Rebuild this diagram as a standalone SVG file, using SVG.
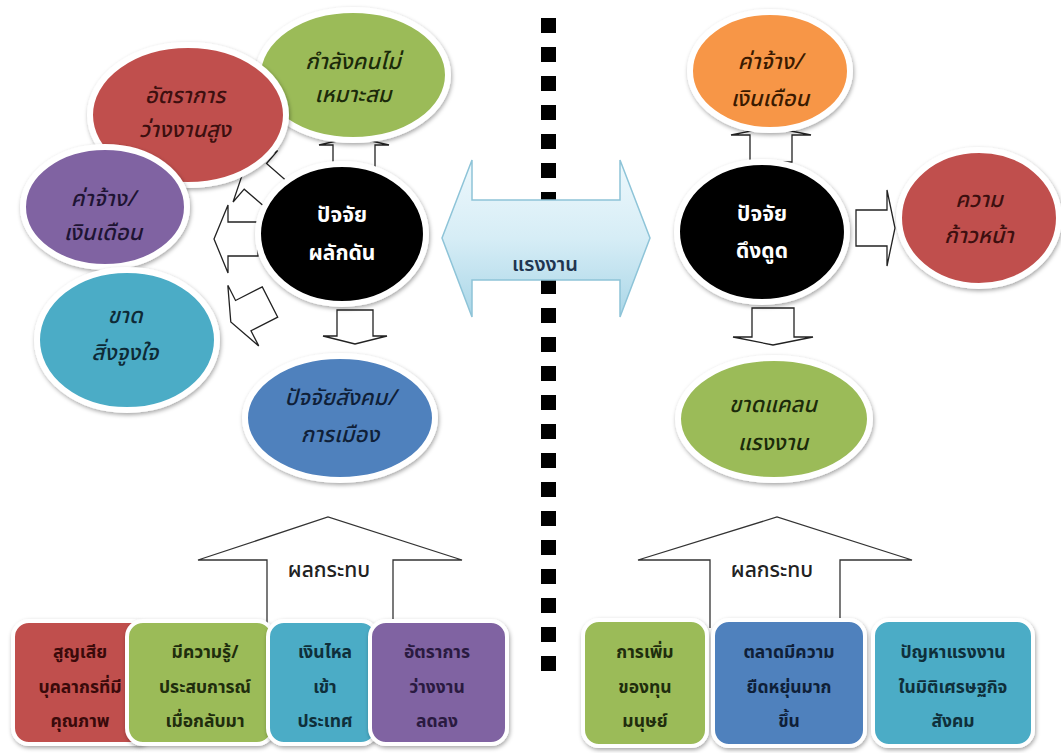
<svg xmlns="http://www.w3.org/2000/svg" width="1061" height="753" viewBox="0 0 1061 753">
<style>
text{font-family:'Noto Sans Thai','Noto Sans','DejaVu Sans',sans-serif;text-anchor:middle}
.et{font-size:22px;font-style:italic;font-weight:500}
.ct{font-size:21px;font-weight:bold;fill:#fff}
.bt{font-size:17.5px;font-weight:bold}
.it{font-size:21px;font-weight:500;fill:#222}
.rim{stroke:#fff;stroke-width:6;filter:url(#sh)}
.box{stroke:#fff;stroke-width:4;filter:url(#sh)}
.arr{fill:#fff;stroke:#222;stroke-width:1.3}
.big{fill:#fff;stroke:none}
.bigl{fill:none;stroke:#333;stroke-width:1.3}
</style>
<defs>
<filter id="sh" x="-10%" y="-10%" width="125%" height="130%">
<feDropShadow dx="1" dy="2" stdDeviation="2" flood-color="#000" flood-opacity="0.35"/>
</filter>
<linearGradient id="gb" x1="0" y1="0" x2="0" y2="1">
<stop offset="0" stop-color="#eef8fc"/>
<stop offset="0.5" stop-color="#d6edf6"/>
<stop offset="1" stop-color="#aad6e7"/>
</linearGradient>
<path id="aL" d="M0,-17 H-30 V-34 L-44,0 L-30,34 V17 H0 Z"/>
</defs>
<rect width="1061" height="753" fill="#fff"/>

<g id="divider" fill="#000">
<rect x="541" y="18" width="15" height="15"/><rect x="541" y="47" width="15" height="15"/><rect x="541" y="76" width="15" height="15"/><rect x="541" y="105" width="15" height="15"/><rect x="541" y="134" width="15" height="15"/><rect x="541" y="163" width="15" height="15"/><rect x="541" y="192" width="15" height="15"/><rect x="541" y="221" width="15" height="15"/><rect x="541" y="250" width="15" height="15"/><rect x="541" y="279" width="15" height="15"/><rect x="541" y="308" width="15" height="15"/><rect x="541" y="337" width="15" height="15"/><rect x="541" y="366" width="15" height="15"/><rect x="541" y="395" width="15" height="15"/><rect x="541" y="424" width="15" height="15"/><rect x="541" y="453" width="15" height="15"/><rect x="541" y="482" width="15" height="15"/><rect x="541" y="511" width="15" height="15"/><rect x="541" y="540" width="15" height="15"/><rect x="541" y="569" width="15" height="15"/><rect x="541" y="598" width="15" height="15"/><rect x="541" y="627" width="15" height="15"/><rect x="541" y="656" width="15" height="15"/>
</g>

<g id="connectors">
<use href="#aL" class="arr" transform="translate(258,239)"/>
<use href="#aL" class="arr" transform="translate(278,196) rotate(41)"/>
<use href="#aL" class="arr" transform="translate(270,302) rotate(-27)"/>
<path class="arr" d="M-21,0 V-25 H-35 L0,-33 L35,-25 H21 V0 Z" transform="translate(354,170)"/>
<path class="arr" d="M-18,0 V26 H-32 L0,34 L32,26 H18 V0 Z" transform="translate(355,310)"/>
<path class="arr" d="M-21,0 V-27 H-40 L0,-35 L40,-27 H21 V0 Z" transform="translate(771,162)"/>
<path class="arr" d="M-21,0 V29 H-40 L0,37 L40,29 H21 V0 Z" transform="translate(773,308)"/>
<path class="arr" d="M0,-18 H31 V-38 L39,0 L31,38 V18 H0 Z" transform="translate(856,228)"/>
<g id="impactL">
<path class="big" d="M267,628 V560 H198 L328,517 L462,560 H393 V628 Z"/>
<path class="bigl" d="M267,628 V560 H198 L328,517 L462,560 H393 V628"/>
<text class="it" x="329" y="577">ผลกระทบ</text>
</g>
<g id="impactR">
<path class="big" d="M710,628 V560 H638 L777,517 L912,560 H840 V628 Z"/>
<path class="bigl" d="M710,628 V560 H638 L777,517 L912,560 H840 V628"/>
<text class="it" x="772" y="577">ผลกระทบ</text>
</g>
<g id="labour">
<path d="M442,238 L472,160 V200 H620 V160 L650,238 L620,317 V280 H472 V317 Z" fill="url(#gb)" stroke="#8ec4d8" stroke-width="1.5"/>
<text x="545" y="271" style="font-size:20px;font-weight:600;fill:#1f3550">แรงงาน</text>
</g>
</g>

<g id="n-green-l"><ellipse cx="353" cy="75" rx="95" ry="65" fill="#9bbb59" class="rim"/>
<text class="et" x="353" y="69" fill="#1b2a0a">กำลังคนไม่</text><text class="et" x="353" y="102" fill="#1b2a0a">เหมาะสม</text></g>
<g id="n-red-l"><ellipse cx="188" cy="115" rx="98" ry="70" fill="#c0504d" class="rim"/>
<text class="et" x="185" y="103" fill="#3d0f0f">อัตราการ</text><text class="et" x="185" y="137" fill="#3d0f0f">ว่างงานสูง</text></g>
<g id="n-purple-l"><ellipse cx="105" cy="207" rx="82" ry="60" fill="#8064a2" class="rim"/>
<text class="et" x="103" y="206" fill="#1e1433">ค่าจ้าง/</text><text class="et" x="103" y="240" fill="#1e1433">เงินเดือน</text></g>
<g id="n-teal-l"><ellipse cx="127" cy="340" rx="90" ry="70" fill="#4bacc6" class="rim"/>
<text class="et" x="125" y="323" fill="#0e2a36">ขาด</text><text class="et" x="125" y="360" fill="#0e2a36">สิ่งจูงใจ</text></g>
<g id="n-blue-l"><ellipse cx="340" cy="418" rx="95" ry="62" fill="#4f81bd" class="rim"/>
<text class="et" x="340" y="405" fill="#0f1f38">ปัจจัยสังคม/</text><text class="et" x="340" y="442" fill="#0f1f38">การเมือง</text></g>
<g id="n-push"><ellipse cx="342" cy="234" rx="84" ry="70" fill="#000" class="rim"/>
<text class="ct" x="342" y="222">ปัจจัย</text><text class="ct" x="342" y="260">ผลักดัน</text></g>

<g id="n-orange-r"><ellipse cx="770" cy="71" rx="80" ry="59" fill="#f79646" class="rim"/>
<text class="et" x="770" y="69" fill="#3a1a00">ค่าจ้าง/</text><text class="et" x="770" y="106" fill="#3a1a00">เงินเดือน</text></g>
<g id="n-pull"><ellipse cx="762" cy="232" rx="85" ry="70" fill="#000" class="rim"/>
<text class="ct" x="762" y="221">ปัจจัย</text><text class="ct" x="762" y="258">ดึงดูด</text></g>
<g id="n-red-r"><ellipse cx="979" cy="218" rx="80" ry="68" fill="#c0504d" class="rim"/>
<text class="et" x="979" y="207" fill="#3d0f0f">ความ</text><text class="et" x="979" y="243" fill="#3d0f0f">ก้าวหน้า</text></g>
<g id="n-green-r"><ellipse cx="774" cy="419" rx="96" ry="61" fill="#9bbb59" class="rim"/>
<text class="et" x="773" y="412" fill="#1b2a0a">ขาดแคลน</text><text class="et" x="773" y="450" fill="#1b2a0a">แรงงาน</text></g>

<g id="b1"><rect x="13" y="621" width="137" height="123" rx="16" fill="#c0504d" class="box"/>
<text class="bt" x="80" y="658" fill="#3a0a0a">สูญเสีย</text><text class="bt" x="80" y="693" fill="#3a0a0a">บุคลากรที่มี</text><text class="bt" x="80" y="727" fill="#3a0a0a">คุณภาพ</text></g>
<g id="b2"><rect x="127" y="621" width="146" height="123" rx="16" fill="#9bbb59" class="box"/>
<text class="bt" x="205" y="658" fill="#1f2d0d">มีความรู้/</text><text class="bt" x="205" y="693" fill="#1f2d0d">ประสบการณ์</text><text class="bt" x="205" y="727" fill="#1f2d0d">เมื่อกลับมา</text></g>
<g id="b3"><rect x="268" y="621" width="109" height="123" rx="16" fill="#4bacc6" class="box"/>
<text class="bt" x="325" y="658" fill="#0f2f3a">เงินไหล</text><text class="bt" x="325" y="693" fill="#0f2f3a">เข้า</text><text class="bt" x="325" y="727" fill="#0f2f3a">ประเทศ</text></g>
<g id="b4"><rect x="370" y="621" width="137" height="123" rx="16" fill="#8064a2" class="box"/>
<text class="bt" x="437" y="658" fill="#2a1a40">อัตราการ</text><text class="bt" x="437" y="693" fill="#2a1a40">ว่างงาน</text><text class="bt" x="437" y="727" fill="#2a1a40">ลดลง</text></g>

<g id="b5"><rect x="583" y="620" width="124" height="126" rx="16" fill="#9bbb59" class="box"/>
<text class="bt" x="645" y="658" fill="#1f2d0d">การเพิ่ม</text><text class="bt" x="645" y="693" fill="#1f2d0d">ของทุน</text><text class="bt" x="645" y="727" fill="#1f2d0d">มนุษย์</text></g>
<g id="b6"><rect x="713" y="620" width="152" height="126" rx="16" fill="#4f81bd" class="box"/>
<text class="bt" x="789" y="658" fill="#0f1f38">ตลาดมีความ</text><text class="bt" x="789" y="693" fill="#0f1f38">ยืดหยุ่นมาก</text><text class="bt" x="789" y="727" fill="#0f1f38">ขึ้น</text></g>
<g id="b7"><rect x="873" y="620" width="160" height="126" rx="16" fill="#4bacc6" class="box"/>
<text class="bt" x="953" y="658" fill="#0f2f3a">ปัญหาแรงงาน</text><text class="bt" x="953" y="693" fill="#0f2f3a">ในมิติเศรษฐกิจ</text><text class="bt" x="953" y="727" fill="#0f2f3a">สังคม</text></g>
</svg>
